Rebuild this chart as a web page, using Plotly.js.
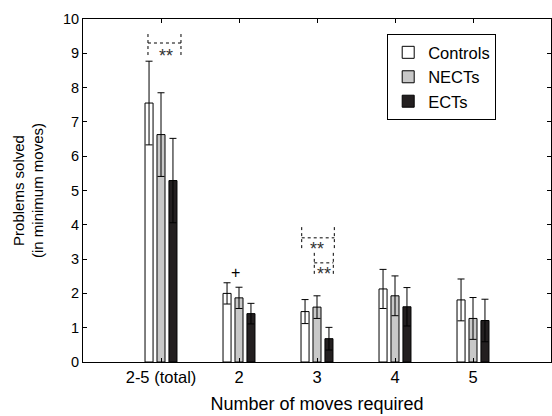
<!DOCTYPE html>
<html>
<head>
<meta charset="utf-8">
<script src="https://cdn.plot.ly/plotly-3.0.1.min.js"></script>
<style>html,body{margin:0;padding:0;background:#fff}#chart{width:552px;height:416px}</style>
</head>
<body>
<div id="chart"></div>
<script>
const categories = ["2-5 (total)", "2", "3", "4", "5"];
const controls = [7.55, 2.0, 1.47, 2.13, 1.81];
const controlsErr = [1.22, 0.31, 0.35, 0.57, 0.61];
const nects = [6.63, 1.87, 1.60, 1.93, 1.27];
const nectsErr = [1.22, 0.31, 0.33, 0.58, 0.61];
const ects = [5.29, 1.41, 0.68, 1.61, 1.21];
const ectsErr = [1.23, 0.30, 0.33, 0.56, 0.62];
const yTicks = [0,1,2,3,4,5,6,7,8,9,10];

const FONT = "Liberation Sans, Arial, sans-serif";

function mk(name, y, err, fill) {
  return {
    type: 'bar', name: name, x: categories, y: y,
    marker: {color: fill, line: {color: '#000', width: 1}},
    error_y: {type: 'data', array: err, symmetric: true, color: '#000', thickness: 1, width: 3.5}
  };
}
const data = [
  mk('Controls', controls, controlsErr, '#ffffff'),
  mk('NECTs', nects, nectsErr, '#c8c8c8'),
  mk('ECTs', ects, ectsErr, '#231f20')
];

const dot = {color: '#000', width: 1, dash: 'dot'};
function bracket(x0, x1, yTop, yMid, yBot) {
  return [
    {type: 'line', xref: 'x', yref: 'y', x0: x0, x1: x0, y0: yBot, y1: yTop, line: dot},
    {type: 'line', xref: 'x', yref: 'y', x0: x1, x1: x1, y0: yBot, y1: yTop, line: dot},
    {type: 'line', xref: 'x', yref: 'y', x0: x0, x1: x1, y0: yMid, y1: yMid, line: dot}
  ];
}
const shapes = [].concat(
  bracket(-0.167, 0.256, 9.62, 9.30, 8.95),
  bracket(1.804, 2.222, 3.98, 3.62, 3.32),
  bracket(1.965, 2.209, 3.21, 2.89, 2.57)
);
const annFont = {family: FONT, size: 18, color: '#333'};
const annotations = [
  {x: 0.06, y: 8.93, xref: 'x', yref: 'y', text: '**', showarrow: false, font: annFont},
  {x: 2.0, y: 3.30, xref: 'x', yref: 'y', text: '**', showarrow: false, font: annFont},
  {x: 2.09, y: 2.56, xref: 'x', yref: 'y', text: '**', showarrow: false, font: annFont},
  {x: 0.96, y: 2.62, xref: 'x', yref: 'y', text: '+', showarrow: false, font: {family: FONT, size: 16, color: '#000'}}
];

const layout = {
  width: 552, height: 416,
  margin: {l: 83, r: 1, t: 19, b: 54, pad: 0},
  paper_bgcolor: '#fff', plot_bgcolor: '#fff',
  font: {family: FONT, size: 14, color: '#000'},
  barmode: 'group', bargap: 0.54, bargroupgap: 0.33,
  showlegend: true,
  legend: {x: 0.65, y: 0.956, xanchor: 'left', yanchor: 'top', bordercolor: '#000', borderwidth: 1,
    bgcolor: '#fff', font: {family: FONT, size: 16.5, color: '#000'}, traceorder: 'normal'},
  xaxis: {
    type: 'category', range: [-1, 5], showline: true, mirror: 'ticks', linecolor: '#000', linewidth: 1,
    ticks: 'inside', ticklen: 4, tickcolor: '#000', showgrid: false, zeroline: false,
    tickfont: {family: FONT, size: 16.5}, automargin: false,
    title: {text: 'Number of moves required', font: {family: FONT, size: 18}, standoff: 12}
  },
  yaxis: {
    range: [0, 10], tickvals: yTicks, ticktext: yTicks.map(String), showline: true, mirror: 'ticks',
    linecolor: '#000', linewidth: 1, ticks: 'inside', ticklen: 4, tickcolor: '#000',
    showgrid: false, zeroline: false, tickfont: {family: FONT, size: 14.5}, automargin: false,
    title: {text: 'Problems solved<br>(in minimum moves)', font: {family: FONT, size: 15}, standoff: 15}
  },
  shapes: shapes,
  annotations: annotations
};
Plotly.newPlot('chart', data, layout, {displayModeBar: false, staticPlot: true});
</script>
</body>
</html>
